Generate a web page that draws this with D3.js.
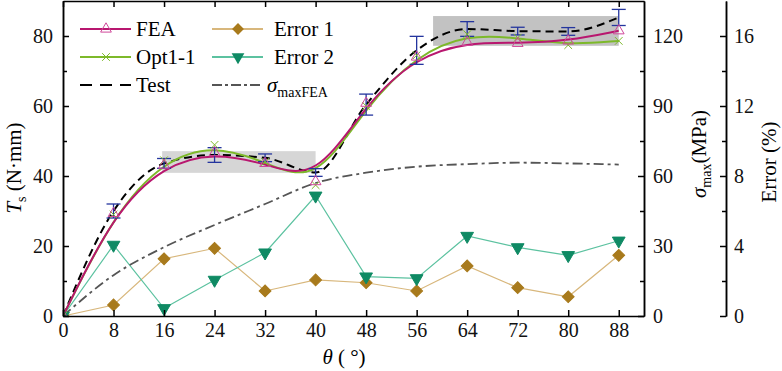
<!DOCTYPE html>
<html>
<head>
<meta charset="utf-8">
<script src="https://cdn.jsdelivr.net/npm/d3@7"></script>
<style>
  body { margin: 0; background: #fff; }
</style>
</head>
<body>
<div id="chart"></div>
<script>
// angles (deg)
var theta = [0, 8, 16, 24, 32, 40, 48, 56, 64, 72, 80, 88];
// torque Ts (N·mm)
var feaT  = [0, 29.3, 43.1, 46.7, 43.6, 38.4, 60.8, 74.0, 78.2, 77.9, 78.6, 81.5];
var optT  = [0, 29.0, 44.5, 48.9, 44.0, 37.4, 60.0, 74.5, 80.5, 79.5, 77.4, 78.6];
var testT = [0, 30.0, 43.6, 46.0, 45.2, 41.0, 60.4, 75.9, 82.0, 81.4, 81.3, 85.3];
var testErr = [0, 2.0, 1.4, 2.1, 1.1, 1.1, 3.0, 4.0, 2.1, 1.1, 1.1, 2.3];
// sigma max FEA (MPa)
var sigmaMax = [0, 17.5, 29.5, 39.0, 48.0, 57.0, 61.4, 64.0, 65.1, 65.7, 65.4, 64.9];
// errors (%)
var err1 = [0, 0.63, 3.27, 3.87, 1.43, 2.06, 1.90, 1.43, 2.86, 1.62, 1.10, 3.47];
var err2 = [0, 4.06, 0.44, 2.06, 3.62, 6.87, 2.25, 2.15, 4.57, 3.92, 3.47, 4.30];
// shaded bands [theta0, theta1, T0, T1]
var bands = [[15.7, 40, 40.9, 47.1], [58.6, 88, 77.2, 85.7]];

var xTicks = [0, 8, 16, 24, 32, 40, 48, 56, 64, 72, 80, 88];
var yTicks = [0, 20, 40, 60, 80];
var sTicks = [0, 30, 60, 90, 120];
var eTicks = [0, 4, 8, 12, 16];

var W = 782, H = 371;
var x0 = 63, x1 = 644, yB = 316, yT = 1;
var FONT = "'Liberation Serif', 'Times New Roman', Times, serif";

var svg = d3.select("#chart").append("svg")
	.attr("width", W).attr("height", H);

var x = d3.scaleLinear().domain([0, 92]).range([x0, x1]);
var y = d3.scaleLinear().domain([0, 90]).range([yB, yT]);
var yS = d3.scaleLinear().domain([0, 135]).range([yB, yT]);
var yE = d3.scaleLinear().domain([0, 18]).range([yB, yT]);

var cFEA = "#B8176F", cOpt = "#7DB92A", cE1 = "#A87A1C", cE1l = "#D8B77C",
	cE2 = "#0F8A64", cE2l = "#5CC2A0", cBar = "#24359E";

svg.append("clipPath").attr("id", "clip")
	.append("rect").attr("x", x0).attr("y", yT).attr("width", x1 - x0).attr("height", yB - yT);

var plot = svg.append("g").attr("clip-path", "url(#clip)");

// grey bands
plot.selectAll(".band").data(bands).enter().append("rect")
	.attr("x", function(d){ return x(d[0]); })
	.attr("y", function(d){ return y(d[3]); })
	.attr("width", function(d){ return x(d[1]) - x(d[0]); })
	.attr("height", function(d){ return y(d[2]) - y(d[3]); })
	.attr("fill", function(d, i){ return i == 0 ? "#d6d6d6" : "#c2c2c2"; });

function pts(ys){ return theta.map(function(t, i){ return [t, ys[i]]; }); }

// Error lines
var lineE = d3.line().x(function(d){ return x(d[0]); }).y(function(d){ return yE(d[1]); });
plot.append("path").attr("d", lineE(pts(err1))).attr("fill", "none").attr("stroke", cE1l).attr("stroke-width", 1.2);
plot.append("path").attr("d", lineE(pts(err2))).attr("fill", "none").attr("stroke", cE2l).attr("stroke-width", 1.2);

// sigma max
var lineS = d3.line().curve(d3.curveMonotoneX).x(function(d){ return x(d[0]); }).y(function(d){ return yS(d[1]); });
plot.append("path").attr("d", lineS(pts(sigmaMax))).attr("fill", "none")
	.attr("stroke", "#555").attr("stroke-width", 1.8).attr("stroke-dasharray", "10,4,3,4");

// torque curves
var lineB = d3.line().curve(d3.curveBasis).x(function(d){ return x(d[0]); }).y(function(d){ return y(d[1]); });
var lineM = d3.line().curve(d3.curveMonotoneX).x(function(d){ return x(d[0]); }).y(function(d){ return y(d[1]); });
plot.append("path").attr("d", lineM(pts(testT))).attr("fill", "none")
	.attr("stroke", "#000").attr("stroke-width", 2).attr("stroke-dasharray", "8,5");
plot.append("path").attr("d", lineB(pts(optT))).attr("fill", "none").attr("stroke", cOpt).attr("stroke-width", 2);
plot.append("path").attr("d", lineB(pts(feaT))).attr("fill", "none").attr("stroke", cFEA).attr("stroke-width", 2);

// error bars on test
var bars = plot.selectAll(".eb").data(pts(testT).slice(1)).enter().append("g");
bars.append("line")
	.attr("x1", function(d){ return x(d[0]); }).attr("x2", function(d){ return x(d[0]); })
	.attr("y1", function(d, i){ return y(d[1] + testErr[i + 1]); })
	.attr("y2", function(d, i){ return y(d[1] - testErr[i + 1]); });
bars.append("line")
	.attr("x1", function(d){ return x(d[0]) - 7; }).attr("x2", function(d){ return x(d[0]) + 7; })
	.attr("y1", function(d, i){ return y(d[1] + testErr[i + 1]); })
	.attr("y2", function(d, i){ return y(d[1] + testErr[i + 1]); });
bars.append("line")
	.attr("x1", function(d){ return x(d[0]) - 7; }).attr("x2", function(d){ return x(d[0]) + 7; })
	.attr("y1", function(d, i){ return y(d[1] - testErr[i + 1]); })
	.attr("y2", function(d, i){ return y(d[1] - testErr[i + 1]); });
bars.selectAll("line").attr("stroke", cBar).attr("stroke-width", 1.3);

// markers
var triUp = d3.symbol().type(d3.symbolTriangle).size(50);
var triDown = d3.symbol().type(d3.symbolTriangle).size(70);
var diamond = d3.symbol().type(d3.symbolSquare).size(70);
var cross = d3.symbol().type(d3.symbolX).size(40);

function marks(data, sc, sym, fill, stroke, rot){
	plot.selectAll(null).data(data).enter().append("path")
		.attr("d", sym)
		.attr("transform", function(d){ return "translate(" + x(d[0]) + "," + sc(d[1]) + ") rotate(" + rot + ")"; })
		.attr("fill", fill).attr("stroke", stroke).attr("stroke-width", 1);
}
marks(pts(err1), yE, diamond, cE1, cE1, 45);
marks(pts(err2), yE, triDown, cE2, cE2, 180);
marks(pts(optT), y, cross, "none", cOpt, 0);
marks(pts(feaT), y, triUp, "none", "#D0489A", 0);

// axes
function styleAxis(g){
	g.selectAll("text").style("font-size", "20px").attr("fill", "#111");
	g.selectAll("path, line").attr("stroke", "#000").attr("stroke-width", 1.5);
}
svg.append("g").attr("transform", "translate(0," + yB + ")")
	.call(d3.axisBottom(x).tickValues(xTicks).tickSizeInner(-6).tickSizeOuter(0).tickPadding(7))
	.call(styleAxis);
svg.append("g").attr("transform", "translate(0," + yT + ")")
	.call(d3.axisTop(x).tickValues(xTicks).tickSizeInner(-6).tickSizeOuter(0).tickFormat(""))
	.call(styleAxis);
svg.append("g").attr("transform", "translate(" + x0 + ",0)")
	.call(d3.axisLeft(y).tickValues(yTicks).tickSizeInner(-6).tickSizeOuter(0).tickPadding(10))
	.call(styleAxis);
svg.append("g").attr("transform", "translate(" + x0 + ",0)")
	.call(d3.axisLeft(y).tickValues([10, 30, 50, 70]).tickSizeInner(-4).tickSizeOuter(0).tickFormat(""))
	.call(styleAxis);
svg.append("g").attr("transform", "translate(" + x1 + ",0)")
	.call(d3.axisRight(yS).tickValues(sTicks).tickSizeInner(-6).tickSizeOuter(0).tickPadding(9))
	.call(styleAxis);
svg.append("g").attr("transform", "translate(" + x1 + ",0)")
	.call(d3.axisRight(yS).tickValues([15, 45, 75, 105]).tickSizeInner(-4).tickSizeOuter(0).tickFormat(""))
	.call(styleAxis);
var xE = 726;
svg.append("g").attr("transform", "translate(" + xE + ",0)")
	.call(d3.axisRight(yE).tickValues(eTicks).tickSizeInner(-6).tickSizeOuter(0).tickPadding(8))
	.call(styleAxis);
svg.append("g").attr("transform", "translate(" + xE + ",0)")
	.call(d3.axisRight(yE).tickValues([2, 6, 10, 14]).tickSizeInner(-4).tickSizeOuter(0).tickFormat(""))
	.call(styleAxis);

// axis titles
var tx = svg.append("text").attr("x", 344).attr("y", 364).attr("text-anchor", "middle").style("font-size", "21px");
tx.append("tspan").style("font-style", "italic").text("θ");
tx.append("tspan").text(" ( °)");

var ty = svg.append("text").attr("transform", "translate(21,168) rotate(-90)").attr("text-anchor", "middle").style("font-size", "21px");
ty.append("tspan").style("font-style", "italic").text("T");
ty.append("tspan").attr("dy", 5).style("font-size", "14px").text("s");
ty.append("tspan").attr("dy", -5).text(" (N·mm)");

var ts = svg.append("text").attr("transform", "translate(706,154) rotate(-90)").attr("text-anchor", "middle").style("font-size", "21px");
ts.append("tspan").style("font-style", "italic").text("σ");
ts.append("tspan").attr("dy", 5).style("font-size", "14px").text("max");
ts.append("tspan").attr("dy", -5).text("(MPa)");

svg.append("text").attr("transform", "translate(776,162) rotate(-90)").attr("text-anchor", "middle")
	.style("font-size", "21px").text("Error (%)");

// legend
var legend = [
	{ label: "FEA", col: 0, row: 0, stroke: cFEA, dash: null, mark: "tri" },
	{ label: "Opt1-1", col: 0, row: 1, stroke: cOpt, dash: null, mark: "x" },
	{ label: "Test", col: 0, row: 2, stroke: "#000", dash: "12,8", mark: null },
	{ label: "Error 1", col: 1, row: 0, stroke: cE1l, dash: null, mark: "dia" },
	{ label: "Error 2", col: 1, row: 1, stroke: cE2l, dash: null, mark: "tdown" },
	{ label: "σmaxFEA", col: 1, row: 2, stroke: "#555", dash: "10,3,3,3", mark: null }
];
var lg = svg.append("g");
legend.forEach(function(d){
	var lx = d.col == 0 ? 80 : 212, ly = 29 + d.row * 28;
	lg.append("line").attr("x1", lx).attr("x2", lx + 51).attr("y1", ly).attr("y2", ly)
		.attr("stroke", d.stroke).attr("stroke-width", d.dash ? 2.2 : 2).attr("stroke-dasharray", d.dash);
	var m = lx + 26;
	if (d.mark == "tri") lg.append("path").attr("d", triUp).attr("transform", "translate(" + m + "," + ly + ")").attr("fill", "none").attr("stroke", "#D0489A");
	if (d.mark == "x") lg.append("path").attr("d", cross).attr("transform", "translate(" + m + "," + ly + ")").attr("fill", "none").attr("stroke", cOpt);
	if (d.mark == "dia") lg.append("path").attr("d", diamond).attr("transform", "translate(" + m + "," + ly + ") rotate(45)").attr("fill", cE1);
	if (d.mark == "tdown") lg.append("path").attr("d", triDown).attr("transform", "translate(" + m + "," + ly + ") rotate(180)").attr("fill", cE2);
	var t = lg.append("text").attr("x", d.col == 0 ? 136 : 274).attr("y", ly + 7).style("font-size", "21px");
	if (d.label == "σmaxFEA") {
		t.attr("x", 267);
		t.append("tspan").style("font-style", "italic").text("σ");
		t.append("tspan").attr("dy", 5).style("font-size", "14px").text("maxFEA");
	} else {
		t.text(d.label);
	}
});

// same serif face everywhere
svg.selectAll("text").style("font-family", FONT);
</script>
</body>
</html>
